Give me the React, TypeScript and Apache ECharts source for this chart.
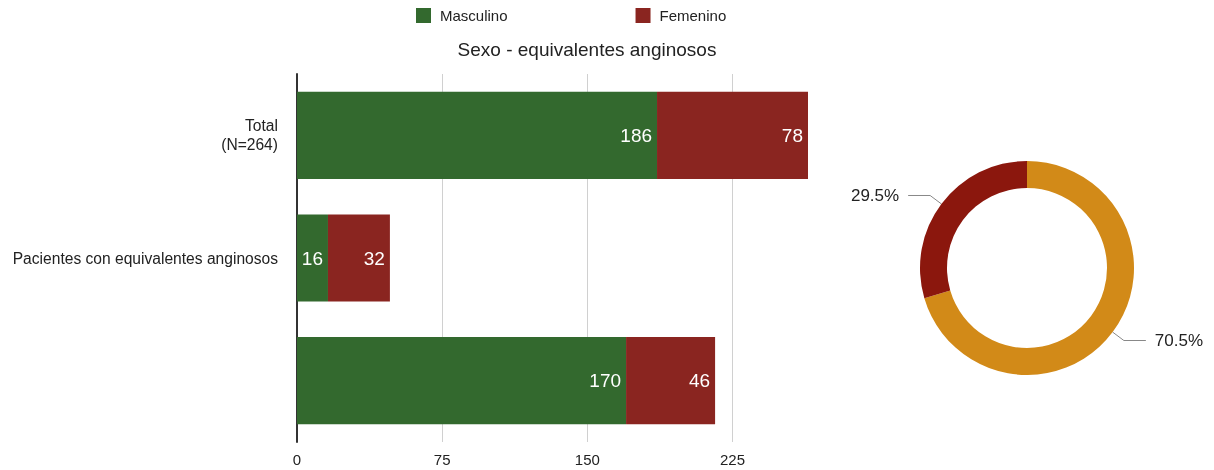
import React, { useEffect, useRef } from "react";
import * as echarts from "echarts";

const categories = ["Total\n(N=264)", "Pacientes con equivalentes anginosos", ""];
const seriesNames = ["Masculino", "Femenino"];
const masculino = [186, 16, 170];
const femenino = [78, 32, 46];
const pieNames = ["Masculino", "Femenino"];
const pieValues = [186, 78];
const xTicks = [0, 75, 150, 225];

const FONT = "Liberation Sans, Arial, Helvetica, sans-serif";

export default function App() {
  const ref = useRef<HTMLDivElement>(null);
  useEffect(() => {
    if (!ref.current) return;
    const chart = echarts.init(ref.current, undefined, { renderer: "svg" });
    chart.setOption({
      animation: false,
      textStyle: { fontFamily: FONT },
      title: {
        text: "Sexo - equivalentes anginosos",
        left: 582,
        textAlign: "center",
        top: 35,
        textStyle: { fontSize: 19, fontWeight: "normal", color: "#222", fontFamily: FONT },
      },
      legend: {
        left: 416,
        top: 8,
        padding: 0,
        itemWidth: 15,
        itemHeight: 15,
        itemGap: 128,
        icon: "rect",
        data: seriesNames,
        textStyle: { fontSize: 15, color: "#222", fontFamily: FONT, padding: [0, 0, 0, 4] },
      },
      grid: { left: 297, top: 74, width: 511, height: 368, containLabel: false },
      xAxis: {
        type: "value",
        min: 0,
        max: 264,
        interval: 75,
        axisLine: { show: false },
        axisTick: { show: false },
        axisLabel: {
          margin: 10,
          fontSize: 15,
          color: "#222",
          fontFamily: FONT,
          showMaxLabel: false,
          formatter: (v: number) => (xTicks.includes(v) ? String(v) : ""),
        },
        splitLine: { show: true, showMaxLine: false, showMinLine: false, lineStyle: { color: "#d0d0d0", width: 1 } },
      },
      yAxis: {
        type: "category",
        inverse: true,
        data: categories,
        axisLine: { show: true, lineStyle: { color: "#333", width: 2 } },
        axisTick: { show: false },
        axisLabel: { margin: 19, fontSize: 15.6, color: "#222", fontFamily: FONT, align: "right", lineHeight: 19 },
      },
      series: [
        {
          name: seriesNames[0],
          type: "bar",
          stack: "s",
          data: masculino,
          barWidth: "71%",
          itemStyle: { color: "#33692e" },
          label: { show: true, position: "insideRight", distance: 5, color: "#fff", fontSize: 19, fontFamily: FONT },
        },
        {
          name: seriesNames[1],
          type: "bar",
          stack: "s",
          data: femenino,
          barWidth: "71%",
          itemStyle: { color: "#8a2520" },
          label: { show: true, position: "insideRight", distance: 5, color: "#fff", fontSize: 19, fontFamily: FONT },
        },
        {
          name: "pie",
          type: "pie",
          center: [1027, 268],
          radius: [80, 107],
          startAngle: 90,
          clockwise: true,
          percentPrecision: 1,
          legendHoverLink: false,
          data: pieNames.map((n, i) => ({
            name: n + " ",
            value: pieValues[i],
            itemStyle: { color: i === 0 ? "#d28a18" : "#8b170d" },
          })),
          label: {
            show: true,
            formatter: "{d}%",
            fontSize: 17,
            color: "#222",
            fontFamily: FONT,
            distanceToLabelLine: 9,
            overflow: "none",
          },
          labelLine: { show: true, length: 14, length2: 22, lineStyle: { color: "#888", width: 1 } },
        },
      ],
    });
    return () => chart.dispose();
  }, []);
  return <div ref={ref} style={{ position: "fixed", left: 0, top: 0, width: 1214, height: 470 }} />;
}
